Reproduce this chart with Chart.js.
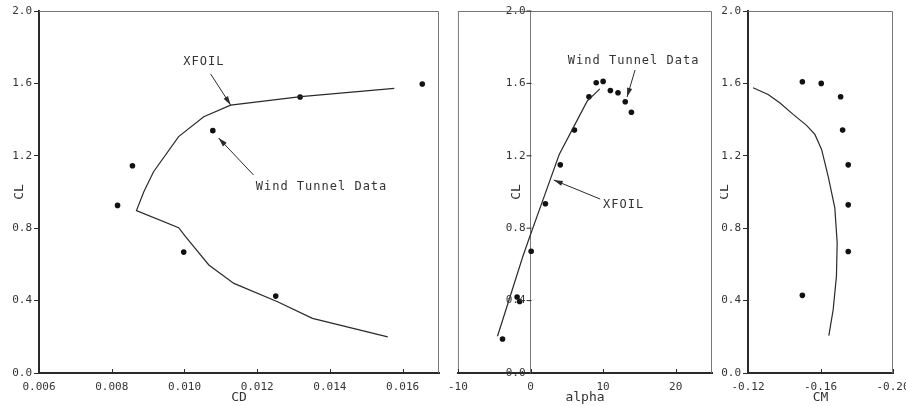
<!DOCTYPE html>
<html>
<head>
<meta charset="utf-8">
<script src="https://cdn.jsdelivr.net/npm/chart.js@4/dist/chart.umd.min.js"></script>
<style>
  html, body { margin: 0; padding: 0; background: #fff; overflow: hidden; }
  #wrap { position: relative; width: 906px; height: 406px; }
  canvas { position: absolute; top: 0; }
</style>
</head>
<body>
<div id="wrap">
  <canvas id="drag" width="450" height="406" style="left:0"></canvas>
  <canvas id="lift" width="290" height="406" style="left:440px"></canvas>
  <canvas id="moment" width="200" height="406" style="left:720px"></canvas>
</div>
<script>
// tick labels
const clTicks = [0, 0.4, 0.8, 1.2, 1.6, 2.0];
const cdTicks = [0.006, 0.008, 0.010, 0.012, 0.014, 0.016];
const alphaTicks = [-10, 0, 10, 20];
const cmTicks = [-0.12, -0.16, -0.20];

// CL vs CD
const xfoilCd = [0.01577, 0.0132, 0.01127, 0.01053, 0.00984, 0.00915, 0.00888, 0.00868, 0.00984, 0.01003, 0.01067, 0.01136, 0.01256, 0.01352, 0.01559];
const xfoilClByCd = [1.573, 1.527, 1.48, 1.416, 1.306, 1.112, 1.0, 0.897, 0.803, 0.753, 0.597, 0.495, 0.394, 0.302, 0.2];
const windCd = [0.00816, 0.00857, 0.00998, 0.01078, 0.01251, 0.01318, 0.01654];
const windClByCd = [0.926, 1.145, 0.668, 1.339, 0.425, 1.525, 1.597];

// CL vs alpha
const xfoilAlpha = [-4.55, -1.05, 0, 1.9, 3.95, 6, 7.8, 9.55];
const xfoilClByAlpha = [0.203, 0.645, 0.765, 0.977, 1.207, 1.364, 1.502, 1.57];
const windAlpha = [-3.86, -1.85, -1.5, 0.09, 2.05, 4.1, 6.05, 8.05, 9.05, 10.0, 11.0, 12.05, 13.05, 13.9];
const windClByAlpha = [0.188, 0.42, 0.395, 0.673, 0.935, 1.15, 1.342, 1.526, 1.604, 1.611, 1.561, 1.548, 1.499, 1.441];

// CL vs CM
const xfoilCm = [-0.1228, -0.1311, -0.1375, -0.1449, -0.1523, -0.1569, -0.1606, -0.1642, -0.1679, -0.1692, -0.1688, -0.167, -0.1646];
const xfoilClByCm = [1.576, 1.539, 1.493, 1.429, 1.368, 1.318, 1.235, 1.088, 0.912, 0.719, 0.535, 0.35, 0.206];
const windCm = [-0.15, -0.1604, -0.1711, -0.1722, -0.1753, -0.1753, -0.1753, -0.15];
const windClByCm = [1.609, 1.6, 1.526, 1.342, 1.15, 0.929, 0.671, 0.429];

const INK = '#2a2a2a';
const TEXT = '#333';
const MONO = '"DejaVu Sans Mono", "Liberation Mono", monospace';
const tickFont = { family: MONO, size: 11 };

const pts = (xs, ys) => xs.map((x, i) => ({ x, y: ys[i] }));
const fixedTicks = values => scale => { scale.ticks = values.map(v => ({ value: v })); };

function datasets(xfoil, wind) {
  return [
    { label: 'XFOIL', data: xfoil, showLine: true, borderColor: INK, borderWidth: 1.2, pointRadius: 0, tension: 0 },
    { label: 'Wind Tunnel Data', data: wind, showLine: false, pointRadius: 2.8, backgroundColor: '#111', borderWidth: 0 }
  ];
}

function drawArrow(ctx, x1, y1, x2, y2) {
  const ang = Math.atan2(y2 - y1, x2 - x1);
  ctx.beginPath();
  ctx.moveTo(x1, y1);
  ctx.lineTo(x2, y2);
  ctx.stroke();
  ctx.beginPath();
  ctx.moveTo(x2, y2);
  ctx.lineTo(x2 - 9 * Math.cos(ang) + 2.6 * Math.sin(ang), y2 - 9 * Math.sin(ang) - 2.6 * Math.cos(ang));
  ctx.lineTo(x2 - 9 * Math.cos(ang) - 2.6 * Math.sin(ang), y2 - 9 * Math.sin(ang) + 2.6 * Math.cos(ang));
  ctx.closePath();
  ctx.fill();
}

// frame, inward x ticks, y title and the labelled arrows
function decorate(opts) {
  return {
    id: 'decorate',
    afterDraw(chart) {
      const { ctx, chartArea: a, scales: { x, y } } = chart;
      ctx.save();
      ctx.strokeStyle = '#777';
      ctx.lineWidth = 1;
      ctx.beginPath();
      ctx.moveTo(a.left, a.top + 0.5);
      ctx.lineTo(a.right - 0.5, a.top + 0.5);
      ctx.lineTo(a.right - 0.5, a.bottom);
      if (opts.leftEdge) {
        ctx.moveTo(a.left + 0.5, a.top);
        ctx.lineTo(a.left + 0.5, a.bottom);
      }
      ctx.stroke();

      ctx.strokeStyle = INK;
      ctx.beginPath();
      x.ticks.forEach(t => {
        const px = Math.round(x.getPixelForValue(t.value)) + 0.5;
        ctx.moveTo(px, a.bottom);
        ctx.lineTo(px, a.bottom - 4);
      });
      ctx.stroke();

      ctx.fillStyle = TEXT;

      // y axis standing inside the plot (alpha = 0)
      if (opts.innerAxisAt != null) {
        const ax = Math.round(x.getPixelForValue(opts.innerAxisAt)) + 0.5;
        ctx.font = '11px ' + MONO;
        ctx.textAlign = 'right';
        ctx.textBaseline = 'middle';
        ctx.beginPath();
        y.ticks.forEach(t => {
          const py = y.getPixelForValue(t.value);
          ctx.moveTo(ax - 5, py);
          ctx.lineTo(ax, py);
          ctx.fillText(t.value.toFixed(1), ax - 6, py);
        });
        ctx.stroke();
      }

      ctx.font = '13px ' + MONO;
      ctx.textAlign = 'center';
      ctx.textBaseline = 'middle';
      ctx.save();
      ctx.translate(opts.titleX(chart), (a.top + a.bottom) / 2);
      ctx.rotate(-Math.PI / 2);
      ctx.fillText('CL', 0, 0);
      ctx.restore();

      ctx.font = '12px ' + MONO;
      ctx.letterSpacing = '1px';
      ctx.textAlign = 'left';
      opts.notes.forEach(n => {
        ctx.fillText(n.text, x.getPixelForValue(n.at[0]), y.getPixelForValue(n.at[1]));
      });
      ctx.strokeStyle = INK;
      ctx.fillStyle = INK;
      opts.arrows.forEach(([from, to]) => {
        drawArrow(ctx, x.getPixelForValue(from[0]), y.getPixelForValue(from[1]),
          x.getPixelForValue(to[0]), y.getPixelForValue(to[1]));
      });
      ctx.restore();
    }
  };
}

function xAxis(min, max, ticks, digits, title, extra) {
  return Object.assign({
    type: 'linear', min, max,
    afterBuildTicks: fixedTicks(ticks),
    afterFit: s => { s.height = 33; },
    grid: { display: false, drawTicks: false },
    border: { display: true, color: INK, width: 2 },
    ticks: { font: tickFont, color: TEXT, padding: 8, maxRotation: 0, autoSkip: false,
      callback: v => digits == null ? String(v) : v.toFixed(digits) },
    title: { display: true, text: title, color: TEXT, font: { family: MONO, size: 13 }, padding: { top: 0, bottom: 1 } }
  }, extra || {});
}

function yAxis(width, extra) {
  return Object.assign({
    type: 'linear', min: 0, max: 2,
    afterBuildTicks: fixedTicks(clTicks),
    afterFit: s => { s.width = width; },
    grid: { display: true, drawOnChartArea: false, tickLength: 5, color: INK },
    border: { display: true, color: INK, width: 2 },
    ticks: { font: tickFont, color: TEXT, padding: 2, callback: v => v.toFixed(1) }
  }, extra || {});
}

const common = {
  responsive: false,
  animation: false,
  events: [],
  plugins: { legend: { display: false }, tooltip: { enabled: false } }
};

new Chart(document.getElementById('drag'), {
  type: 'scatter',
  data: { datasets: datasets(pts(xfoilCd, xfoilClByCd), pts(windCd, windClByCd)) },
  options: Object.assign({}, common, {
    layout: { padding: { left: 0, top: 11, right: 11, bottom: 0 } },
    scales: {
      x: xAxis(0.006, 0.017, cdTicks, 3, 'CD'),
      y: yAxis(39)
    }
  }),
  plugins: [decorate({
    titleX: c => c.chartArea.left - 19,
    notes: [
      { text: 'XFOIL', at: [0.00997, 1.718] },
      { text: 'Wind Tunnel Data', at: [0.01196, 1.028] }
    ],
    arrows: [
      [[0.01072, 1.652], [0.01127, 1.481]],
      [[0.0119, 1.094], [0.01094, 1.298]]
    ]
  })]
});

new Chart(document.getElementById('lift'), {
  type: 'scatter',
  data: { datasets: datasets(pts(xfoilAlpha, xfoilClByAlpha), pts(windAlpha, windClByAlpha)) },
  options: Object.assign({}, common, {
    layout: { padding: { left: 17, top: 11, right: 18, bottom: 0 } },
    scales: {
      x: xAxis(-10, 25, alphaTicks, null, 'alpha'),
      y: yAxis(30, {
        position: { x: 0 },
        grid: { display: false },
        ticks: { display: false },
        border: { display: true, color: '#777', width: 1 }
      })
    }
  }),
  plugins: [decorate({
    leftEdge: true,
    innerAxisAt: 0,
    titleX: c => c.scales.x.getPixelForValue(0) - 14,
    notes: [
      { text: 'Wind Tunnel Data', at: [5.14, 1.724] },
      { text: 'XFOIL', at: [10.0, 0.928] }
    ],
    arrows: [
      [[14.4, 1.674], [13.3, 1.525]],
      [[9.6, 0.961], [3.2, 1.066]]
    ]
  })]
});

new Chart(document.getElementById('moment'), {
  type: 'scatter',
  data: { datasets: datasets(pts(xfoilCm, xfoilClByCm), pts(windCm, windClByCm)) },
  options: Object.assign({}, common, {
    layout: { padding: { left: 0, top: 11, right: 27, bottom: 0 } },
    scales: {
      x: xAxis(-0.20, -0.12, cmTicks, 2, 'CM', { reverse: true }),
      y: yAxis(28)
    }
  }),
  plugins: [decorate({
    titleX: c => c.chartArea.left - 23,
    notes: [],
    arrows: []
  })]
});
</script>
</body>
</html>
